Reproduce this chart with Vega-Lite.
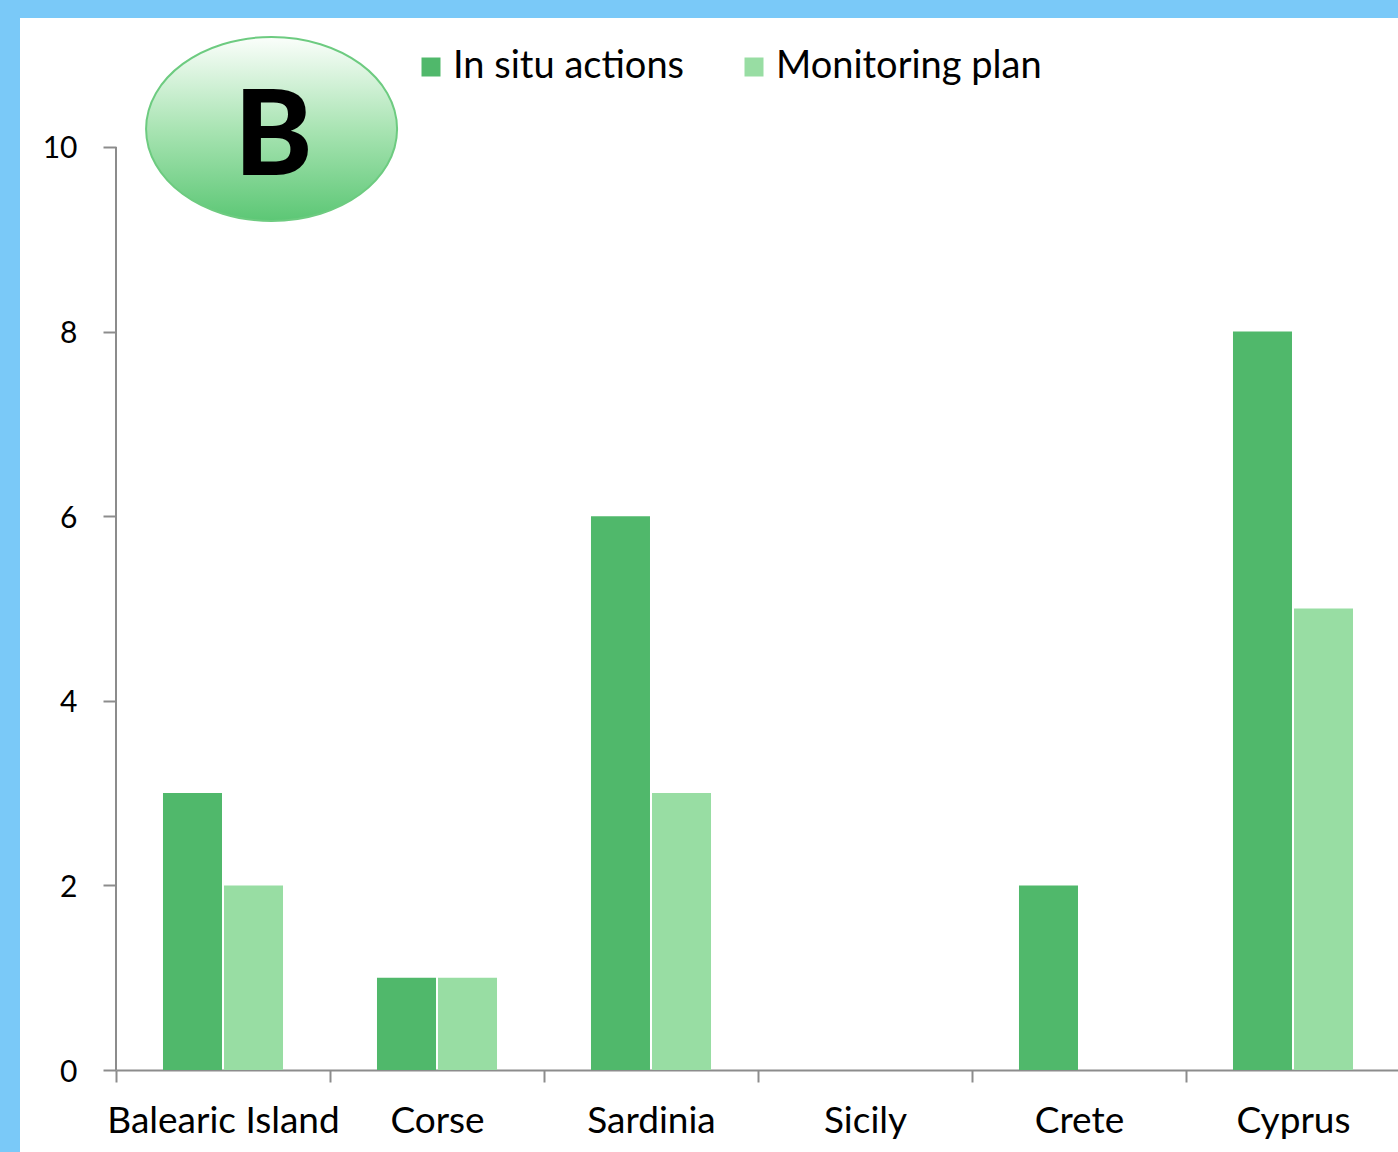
{
  "$schema": "https://vega.github.io/schema/vega-lite/v6.json",
  "width": 1284,
  "height": 956,
  "autosize": {"type": "none"},
  "padding": {"left": 116, "top": 114, "right": 0, "bottom": 82},
  "background": "#7AC9F8",
  "config": {
    "view": {"fill": "#ffffff", "stroke": "#ffffff", "strokeWidth": 192},
    "font": "Lato"
  },
  "layer": [
    {
      "data": {
        "values": [
          {"island": "Balearic Island", "series": "In situ actions", "value": 3},
          {"island": "Balearic Island", "series": "Monitoring plan", "value": 2},
          {"island": "Corse", "series": "In situ actions", "value": 1},
          {"island": "Corse", "series": "Monitoring plan", "value": 1},
          {"island": "Sardinia", "series": "In situ actions", "value": 6},
          {"island": "Sardinia", "series": "Monitoring plan", "value": 3},
          {"island": "Sicily", "series": "In situ actions", "value": 0},
          {"island": "Sicily", "series": "Monitoring plan", "value": 0},
          {"island": "Crete", "series": "In situ actions", "value": 2},
          {"island": "Crete", "series": "Monitoring plan", "value": 0},
          {"island": "Cyprus", "series": "In situ actions", "value": 8},
          {"island": "Cyprus", "series": "Monitoring plan", "value": 5}
        ]
      },
      "mark": {"type": "bar"},
      "encoding": {
        "x": {
          "field": "island", "type": "nominal", "sort": null,
          "scale": {"domain": ["Balearic Island", "Corse", "Sardinia", "Sicily", "Crete", "Cyprus"], "paddingInner": 0, "paddingOuter": 0},
          "axis": {
            "title": null, "labelAngle": 0, "tickBand": "extent", "labelLimit": 0,
            "domainColor": "#8C8C8C", "domainWidth": 2,
            "tickColor": "#8C8C8C", "tickWidth": 2, "tickSize": 12,
            "labelFontSize": 37, "labelColor": "#000000", "labelFont": "Lato",
            "labelPadding": 21
          }
        },
        "xOffset": {
          "field": "series", "type": "nominal",
          "scale": {"paddingInner": 0.033, "paddingOuter": 0.77}
        },
        "y": {
          "field": "value", "type": "quantitative",
          "scale": {"domain": [0, 10.357], "nice": false, "zero": true},
          "axis": {
            "title": null, "values": [0, 2, 4, 6, 8, 10], "format": "d", "domain": false, "grid": false,
            "tickColor": "#8C8C8C", "tickWidth": 2, "tickSize": 13,
            "labelFontSize": 30, "labelColor": "#000000", "labelFont": "Lato",
            "labelPadding": 26, "labelBaseline": "middle", "labelOffset": 2
          }
        },
        "color": {
          "field": "series", "type": "nominal",
          "scale": {"domain": ["In situ actions", "Monitoring plan"], "range": ["#50B86B", "#98DDA3"]},
          "legend": {
            "title": null, "orient": "none", "direction": "horizontal",
            "legendX": 296, "legendY": -66,
            "symbolType": "square", "symbolSize": 361, "symbolStrokeWidth": 0,
            "labelFontSize": 38, "labelColor": "#000000", "labelFont": "Lato", "labelLimit": 0,
            "labelOffset": 3, "columnPadding": 50, "padding": 0
          }
        }
      }
    },
    {
      "data": {"values": [{"island": "Balearic Island", "lo": 0, "hi": 10}]},
      "mark": {"type": "rule", "color": "#8C8C8C", "strokeWidth": 2},
      "encoding": {
        "x": {"field": "island", "type": "nominal", "bandPosition": 0},
        "y": {"field": "lo", "type": "quantitative"},
        "y2": {"field": "hi"}
      }
    },
    {
      "data": {"values": [{"island": "Balearic Island", "label": "B", "ypos": 10.195}]},
      "mark": {
        "type": "point", "filled": true, "opacity": 1,
        "shape": "M-1,0A1,0.733,0,1,1,1,0A1,0.733,0,1,1,-1,0Z",
        "size": 63001,
        "fill": {
          "gradient": "linear", "x1": 0, "y1": 0, "x2": 0, "y2": 1,
          "stops": [
            {"offset": 0, "color": "#FBFEFB"},
            {"offset": 0.5, "color": "#A9E4B3"},
            {"offset": 1, "color": "#5CC775"}
          ]
        },
        "stroke": "#6DCB80", "strokeWidth": 2
      },
      "encoding": {
        "x": {"field": "island", "type": "nominal", "bandPosition": 0.727},
        "y": {"field": "ypos", "type": "quantitative"}
      }
    },
    {
      "data": {"values": [{"island": "Balearic Island", "label": "B", "ypos": 10.07}]},
      "mark": {"type": "text", "font": "Lato", "fontSize": 118, "fontWeight": 900, "color": "#000000", "baseline": "middle", "align": "center"},
      "encoding": {
        "x": {"field": "island", "type": "nominal", "bandPosition": 0.736},
        "y": {"field": "ypos", "type": "quantitative"},
        "text": {"field": "label"}
      }
    }
  ]
}
